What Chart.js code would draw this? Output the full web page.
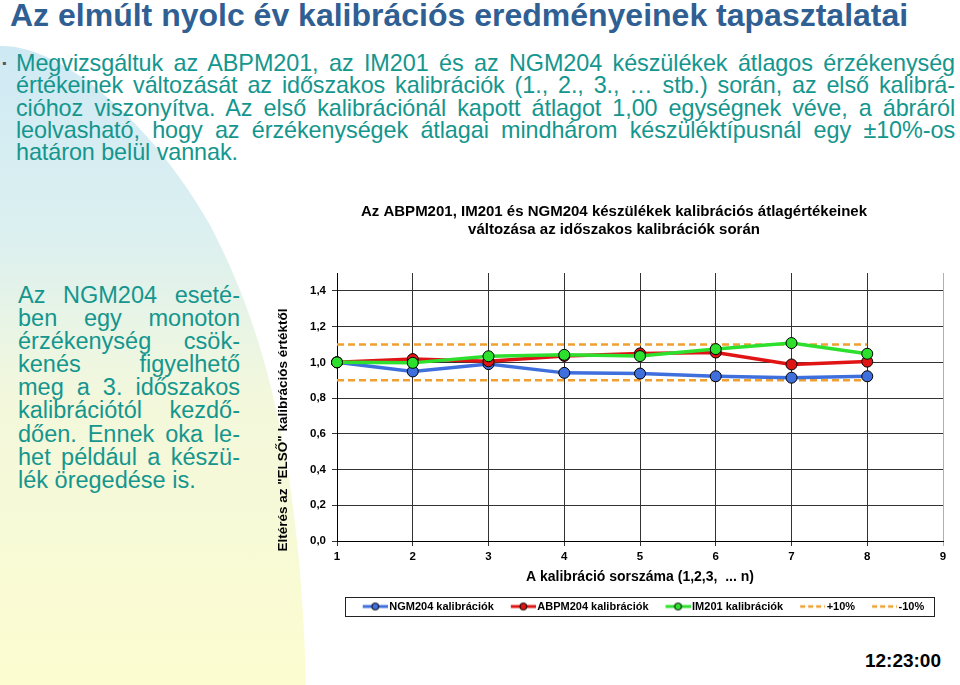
<!DOCTYPE html>
<html>
<head>
<meta charset="utf-8">
<script src="https://cdn.jsdelivr.net/npm/chart.js@4.4.1/dist/chart.umd.min.js"></script>
<style>
  body { margin: 0; width: 960px; height: 685px; overflow: hidden; background: #fff; position: relative; font-family: "Liberation Sans", Arial, sans-serif; }
  #bg { position: absolute; left: 0; top: 0; }
  h1 { position: absolute; left: 10px; top: -2px; margin: 0; font-size: 32px; line-height: 35px; font-weight: bold; color: #2f5f93; white-space: nowrap; }
  .txt { position: absolute; color: #14968e; }
  .txt div { text-align: justify; text-align-last: justify; white-space: nowrap; }
  .txt div.last { text-align-last: left; }
  #intro { left: 16px; top: 52px; width: 939px; font-size: 23.4px; line-height: 22.3px; letter-spacing: -0.08px; }
  #bullet { position: absolute; left: 2px; top: 52px; font-size: 12px; line-height: 22px; color: #555; }
  #side { left: 18px; top: 284px; width: 222px; font-size: 23.5px; line-height: 23.1px; }
  #time { position: absolute; right: 19px; top: 650px; font-size: 19px; font-weight: bold; line-height: 22px; }
  #wrap { position: absolute; left: 268px; top: 195px; width: 692px; height: 428px; }
</style>
</head>
<body>
<svg id="bg" width="960" height="685">
  <defs>
    <linearGradient id="g" x1="0" y1="0" x2="0" y2="1">
      <stop offset="0" stop-color="#cfe9f4"/>
      <stop offset="0.3" stop-color="#dcf0f0"/>
      <stop offset="0.55" stop-color="#f3f8dc"/>
      <stop offset="1" stop-color="#fcfcd0"/>
    </linearGradient>
  </defs>
  <path d="M0,46 C60,44 150,120 210,225 C260,320 300,450 306,685 L0,685 Z" fill="url(#g)"/>
</svg>
<h1>Az elmúlt nyolc év kalibrációs eredményeinek tapasztalatai</h1>
<div id="bullet">▪</div>
<div class="txt" id="intro">
  <div>Megvizsgáltuk az ABPM201, az IM201 és az NGM204 készülékek átlagos érzékenység</div>
  <div>értékeinek változását az időszakos kalibrációk (1., 2., 3., … stb.) során, az első kalibrá-</div>
  <div>cióhoz viszonyítva. Az első kalibrációnál kapott átlagot 1,00 egységnek véve, a ábráról</div>
  <div>leolvasható, hogy az érzékenységek átlagai mindhárom készüléktípusnál egy ±10%-os</div>
  <div class="last">határon belül vannak.</div>
</div>
<div class="txt" id="side">
  <div>Az NGM204 eseté-</div>
  <div>ben egy monoton</div>
  <div>érzékenység csök-</div>
  <div>kenés figyelhető</div>
  <div>meg a 3. időszakos</div>
  <div>kalibrációtól kezdő-</div>
  <div>dően. Ennek oka le-</div>
  <div>het például a készü-</div>
  <div class="last">lék öregedése is.</div>
</div>
<div id="time">12:23:00</div>
<div id="wrap"><canvas id="chart" width="692" height="428"></canvas></div>
<script>
// adatok
const labels = ['1', '2', '3', '4', '5', '6', '7', '8', '9'];
const ngm204 = [1.000, 0.949, 0.990, 0.941, 0.937, 0.922, 0.914, 0.922];
const abpm204 = [1.000, 1.018, 1.006, 1.036, 1.050, 1.055, 0.988, 1.004];
const im201 = [1.000, 0.997, 1.034, 1.042, 1.035, 1.074, 1.108, 1.048];
const plus10 = [1.1, 1.1, 1.1, 1.1, 1.1, 1.1, 1.1, 1.1];
const minus10 = [0.9, 0.9, 0.9, 0.9, 0.9, 0.9, 0.9, 0.9];
const yTicks = [0, 0.2, 0.4, 0.6, 0.8, 1.0, 1.2, 1.4];

const BLUE = '#3f6fdc', RED = '#e01414', GREEN = '#2ee02e', ORANGE = '#f0a030';

// jelmagyarazat mintak (36px szeles kep, a minta 11..36 kozott)
function sample(color, dashed) {
  const c = document.createElement('canvas');
  c.width = 36; c.height = 12;
  const x = c.getContext('2d');
  x.strokeStyle = color;
  if (dashed) {
    x.lineWidth = 2.5;
    x.setLineDash([5, 3]);
    x.beginPath(); x.moveTo(11, 6); x.lineTo(36, 6); x.stroke();
  } else {
    x.lineWidth = 3;
    x.beginPath(); x.moveTo(11, 6); x.lineTo(36, 6); x.stroke();
    x.beginPath(); x.arc(23.5, 6, 3.5, 0, Math.PI * 2);
    x.fillStyle = color; x.fill();
    x.lineWidth = 1; x.strokeStyle = '#000'; x.stroke();
  }
  return c;
}

function series(label, data, color, order) {
  return {
    label: label, data: data, borderColor: color, backgroundColor: color,
    borderWidth: 3.5, pointRadius: 5.5, pointBorderColor: '#000', pointBorderWidth: 1,
    pointBackgroundColor: color, order: order, tension: 0, legendImg: sample(color, false)
  };
}
function limit(label, data, order) {
  return {
    label: label, data: data, borderColor: ORANGE, backgroundColor: ORANGE,
    borderWidth: 2.5, borderDash: [7, 4], pointRadius: 0, order: order, legendImg: sample(ORANGE, true)
  };
}

const yTitle = {
  id: 'yTitle',
  afterDraw(chart) {
    const ctx = chart.ctx;
    ctx.save();
    ctx.translate(15, 235);
    ctx.rotate(-Math.PI / 2);
    ctx.font = 'bold 13.5px "Liberation Sans", Arial';
    ctx.fillStyle = '#000';
    ctx.textAlign = 'center';
    ctx.textBaseline = 'middle';
    ctx.fillText('Eltérés az "ELSŐ" kalibrációs értéktől', 0, 0);
    ctx.restore();
  }
};

const legendBox = {
  id: 'legendBox',
  afterDraw(chart) {
    const hb = chart.legend.legendHitBoxes;
    if (!hb || !hb.length) return;
    const l = Math.min(...hb.map(h => h.left)) - 11;
    const r = Math.max(...hb.map(h => h.left + h.width)) + 9;
    const cy = hb[0].top + hb[0].height / 2;
    const ctx = chart.ctx;
    ctx.save();
    ctx.strokeStyle = '#222';
    ctx.lineWidth = 1;
    ctx.strokeRect(Math.round(l) + 0.5, Math.round(cy - 9.5) + 0.5, Math.round(r - l), 19);
    ctx.restore();
  }
};

Chart.defaults.font.family = '"Liberation Sans", Arial, sans-serif';
Chart.defaults.color = '#000';

new Chart(document.getElementById('chart'), {
  type: 'line',
  data: {
    labels: labels,
    datasets: [
      series('NGM204 kalibrációk', ngm204, BLUE, 2),
      series('ABPM204 kalibrációk', abpm204, RED, 1),
      series('IM201 kalibrációk', im201, GREEN, 0),
      limit('+10%', plus10, 3),
      limit('-10%', minus10, 4)
    ]
  },
  options: {
    responsive: false,
    animation: false,
    layout: { padding: { left: 17, right: 17, top: 0, bottom: 1 } },
    plugins: {
      title: {
        display: true,
        text: ['Az ABPM201, IM201 és NGM204 készülékek kalibrációs átlagértékeinek', 'változása az időszakos kalibrációk során'],
        font: { size: 15, weight: 'bold', lineHeight: 1.2 },
        padding: { top: 8, bottom: 34 },
        color: '#000'
      },
      legend: {
        position: 'bottom',
        fullSize: false,
        labels: {
          font: { size: 11, weight: 'bold' },
          usePointStyle: true,
          pointStyleWidth: 28,
          padding: 10,
          sort: (a, b) => a.datasetIndex - b.datasetIndex,
          generateLabels(chart) {
            const items = Chart.defaults.plugins.legend.labels.generateLabels(chart);
            items.forEach(it => { it.pointStyle = chart.data.datasets[it.datasetIndex].legendImg; });
            return items;
          }
        }
      },
      tooltip: { enabled: false }
    },
    scales: {
      x: {
        offset: false,
        grid: {
          color: ctx => ctx.index === labels.length - 1 ? '#b0b0b0' : '#333',
          tickLength: 5
        },
        border: { color: '#000' },
        ticks: { font: { size: 11.5, weight: 'bold' }, padding: 4, maxRotation: 0 },
        title: {
          display: true,
          text: 'A kalibráció sorszáma (1,2,3,  ... n)',
          font: { size: 14, weight: 'bold' },
          padding: { top: 0, bottom: 5 }
        },
        afterFit(s) { s.height = 50; }
      },
      y: {
        min: 0,
        max: 1.5,
        afterBuildTicks(s) { s.ticks = yTicks.map(v => ({ value: v })); },
        grid: { color: '#333', tickLength: 5 },
        border: { color: '#000' },
        ticks: {
          font: { size: 11.5, weight: 'bold' },
          padding: 6,
          callback: v => v.toFixed(1).replace('.', ',')
        },
        afterFit(s) { s.width = 52; }
      }
    }
  },
  plugins: [yTitle, legendBox]
});
</script>
</body>
</html>
